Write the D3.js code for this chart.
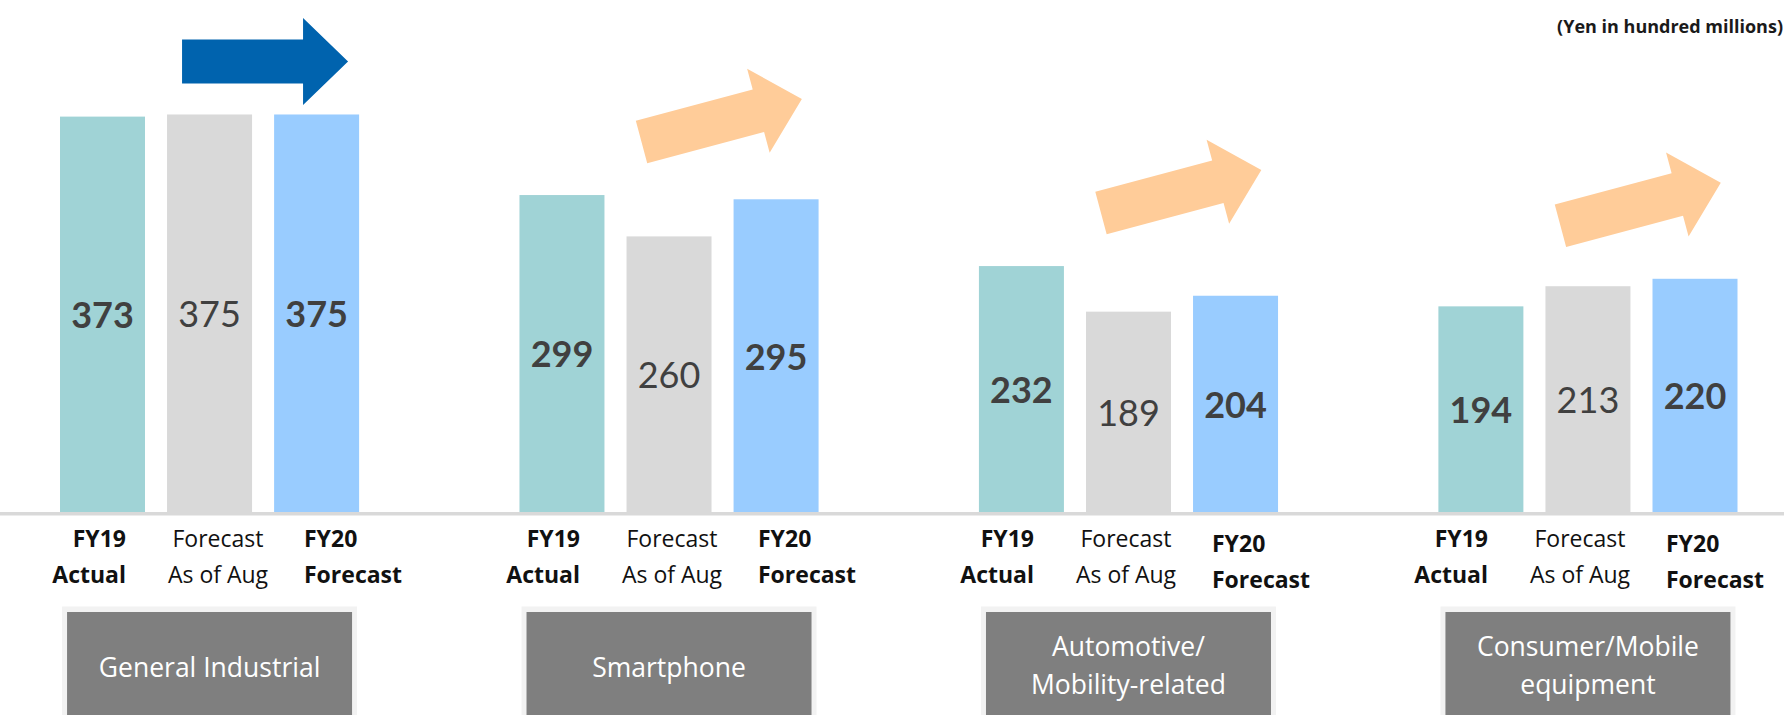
<!DOCTYPE html>
<html>
<head>
<meta charset="utf-8">
<script src="https://cdn.jsdelivr.net/npm/d3@7"></script>
<style>
  body { margin: 0; background: #fff; }
  text { font-family: "Open Sans", Lato, sans-serif; }
  text.value { font-family: Lato, "Open Sans", sans-serif; }
</style>
</head>
<body>
<script>
  // data (Yen in hundred millions)
  const segments = ["General Industrial", "Smartphone", "Automotive/Mobility-related", "Consumer/Mobile equipment"];
  const segmentLines = [["General Industrial"], ["Smartphone"], ["Automotive/", "Mobility-related"], ["Consumer/Mobile", "equipment"]];
  const series = ["FY19 Actual", "Forecast As of Aug", "FY20 Forecast"];
  const seriesLines = [["FY19", "Actual"], ["Forecast", "As of Aug"], ["FY20", "Forecast"]];
  const fy19Actual = [373, 299, 232, 194];
  const augForecast = [375, 260, 189, 213];
  const fy20Forecast = [375, 295, 204, 220];
  const unitLabel = "(Yen in hundred millions)";

  const width = 1784, height = 715;
  const baseY = 512;

  const colors = d3.scaleOrdinal().domain(series).range(["#a0d3d6", "#d9d9d9", "#99ccff"]);
  const bold = {"FY19 Actual": true, "Forecast As of Aug": false, "FY20 Forecast": true};

  const rows = segments.map((s, i) => ({
    segment: s,
    lines: segmentLines[i],
    values: [fy19Actual[i], augForecast[i], fy20Forecast[i]]
  }));

  const svg = d3.select("body")
      .append("svg")
      .attr("width", width)
      .attr("height", height)
      .attr("viewBox", "0 0 " + width + " " + height);

  const y = d3.scaleLinear().domain([0, 483]).range([baseY, 0]);

  const x0 = d3.scaleBand()
      .domain(segments)
      .range([60, 1737.5])
      .paddingInner(0.349);

  const x1 = d3.scaleBand()
      .domain(series)
      .range([0, x0.bandwidth()])
      .paddingInner(0.206);

  // tick labels sit on their own, slightly tighter grid
  const xl = d3.scalePoint()
      .domain(segments)
      .range([126, 126 + 3 * 454]);

  // baseline
  svg.append("rect")
      .attr("x", 0)
      .attr("y", baseY)
      .attr("width", width)
      .attr("height", 3.5)
      .attr("fill", "#d9d9d9");

  const groups = svg.selectAll("g.segment")
      .data(rows)
      .enter().append("g")
      .attr("class", "segment")
      .attr("transform", d => "translate(" + x0(d.segment) + ",0)");

  const bars = groups.selectAll("g.bar")
      .data(d => d.values.map((v, i) => ({key: series[i], value: v})))
      .enter().append("g")
      .attr("class", "bar");

  bars.append("rect")
      .attr("x", d => x1(d.key))
      .attr("y", d => y(d.value))
      .attr("width", x1.bandwidth())
      .attr("height", d => baseY - y(d.value))
      .attr("fill", d => colors(d.key));

  bars.append("text")
      .attr("class", "value")
      .attr("x", d => x1(d.key) + x1.bandwidth() / 2)
      .attr("y", d => (y(d.value) + baseY) / 2 + 1)
      .attr("dy", "0.36em")
      .attr("text-anchor", "middle")
      .attr("font-size", 36)
      .attr("font-weight", d => bold[d.key] ? 700 : 400)
      .attr("fill", "#404040")
      .text(d => d.value);

  // series labels under the axis
  const anchors = ["end", "middle", "start"];
  const offsets = [0, 92, 178];
  rows.forEach((r, g) => {
    series.forEach((s, i) => {
      // the FY20 labels of the right two panels sit a little lower
      const drop = (i === 2 && g > 1) ? 5 : 0;
      const t = svg.append("text")
          .attr("x", xl(r.segment) + offsets[i])
          .attr("y", 547 + drop)
          .attr("text-anchor", anchors[i])
          .attr("font-size", 23)
          .attr("font-weight", bold[s] ? 700 : 400)
          .attr("fill", "#111");
      seriesLines[i].forEach((line, k) => {
        t.append("tspan")
            .attr("x", xl(r.segment) + offsets[i])
            .attr("dy", k === 0 ? 0 : 35.5)
            .text(line);
      });
    });
  });

  // segment name boxes
  const boxW = 285;
  groups.append("rect")
      .attr("x", x0.bandwidth() / 2 - boxW / 2 - 5)
      .attr("y", 606.5)
      .attr("width", boxW + 10)
      .attr("height", 120)
      .attr("fill", "#f2f2f2");

  groups.append("rect")
      .attr("x", x0.bandwidth() / 2 - boxW / 2)
      .attr("y", 612)
      .attr("width", boxW)
      .attr("height", 120)
      .attr("fill", "#7f7f7f");

  groups.append("text")
      .attr("text-anchor", "middle")
      .attr("font-size", 26.5)
      .attr("fill", "#fff")
      .each(function(d) {
        const t = d3.select(this);
        const first = d.lines.length === 1 ? 677 : 656;
        d.lines.forEach((line, k) => {
          t.append("tspan")
              .attr("x", x0.bandwidth() / 2)
              .attr("y", first + k * 37.5)
              .text(line);
        });
      });

  // trend arrows: Aug forecast -> FY20 forecast
  const arrowLen = 166, shaftW = 44, headW = 87, headL = 45;
  const arrowPath = "M0," + (-shaftW / 2) +
      "L" + (arrowLen - headL) + "," + (-shaftW / 2) +
      "L" + (arrowLen - headL) + "," + (-headW / 2) +
      "L" + arrowLen + ",0" +
      "L" + (arrowLen - headL) + "," + (headW / 2) +
      "L" + (arrowLen - headL) + "," + (shaftW / 2) +
      "L0," + (shaftW / 2) + "Z";

  groups.append("path")
      .attr("d", arrowPath)
      .attr("fill", d => d.values[2] > d.values[1] ? "#ffcc99" : "#0063ae")
      .attr("transform", d => {
        const tailX = x1(series[1]) + 15;
        const tailY = y(d3.max(d.values) + 50);
        const angle = d.values[2] > d.values[1] ? -15 : 0;
        return "translate(" + tailX + "," + tailY + ") rotate(" + angle + ")";
      });

  svg.append("text")
      .attr("x", 1783)
      .attr("y", 33)
      .attr("text-anchor", "end")
      .attr("font-size", 18)
      .attr("font-weight", 700)
      .attr("fill", "#1a1a1a")
      .text(unitLabel);
</script>
</body>
</html>
